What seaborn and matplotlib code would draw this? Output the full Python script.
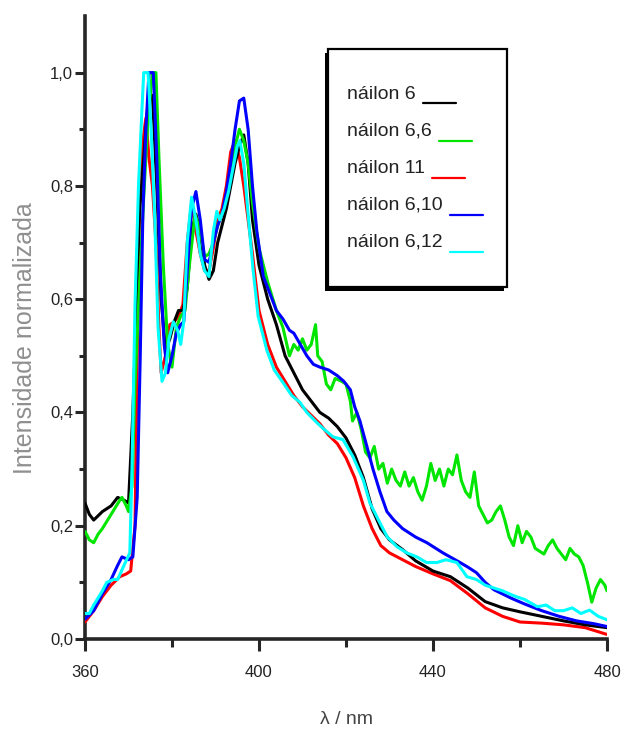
import numpy as np
import pandas as pd
import matplotlib
matplotlib.use("Agg")
import matplotlib.pyplot as plt
import seaborn as sns
from matplotlib.ticker import FixedLocator, FuncFormatter
from matplotlib.legend_handler import HandlerLine2D
from matplotlib.patches import Rectangle

# ---------------- data ----------------
labels = ["náilon 6", "náilon 6,6", "náilon 11", "náilon 6,10", "náilon 6,12"]
colors = ["#000000", "#00e600", "#ff0000", "#0000ff", "#00ffff"]

x_n6 = [360, 361, 362, 364, 366, 367.5, 369, 370, 371, 372, 372.5, 373.5, 374.5, 375.5,
        376.5, 377.5, 378.5, 379.5, 380.5, 381.5, 382.5, 383.5, 384.5, 385.5, 386.5, 387.5,
        388.5, 389.5, 390.5, 391.5, 392.5, 393.5, 394.5, 395.5, 396.5, 397.5, 398.5, 400,
        402, 404, 406, 408, 410, 412, 414, 416, 418, 420, 422, 424, 426, 428, 430, 433,
        436, 440, 444, 448, 452, 456, 460, 465, 470, 475, 480]
y_n6 = [0.24, 0.22, 0.21, 0.225, 0.235, 0.25, 0.245, 0.24, 0.40, 0.62, 0.75, 0.85, 0.95, 0.96,
        0.80, 0.60, 0.51, 0.53, 0.56, 0.58, 0.58, 0.62, 0.72, 0.75, 0.72, 0.66,
        0.635, 0.65, 0.70, 0.73, 0.76, 0.80, 0.84, 0.87, 0.89, 0.84, 0.74, 0.66,
        0.60, 0.555, 0.50, 0.47, 0.44, 0.42, 0.40, 0.39, 0.375, 0.355, 0.325, 0.285, 0.23, 0.195, 0.175, 0.158,
        0.138, 0.12, 0.11, 0.09, 0.066, 0.055, 0.048, 0.04, 0.032, 0.025, 0.02]

x_n66 = [360, 361, 362, 363, 364, 366, 368, 368.5, 369.5, 370, 370.8, 371.5, 372.5, 373.5,
         374.5, 375.5, 376.3, 377, 378, 379, 380, 381, 382, 383, 384, 385.3, 386.5, 387.5,
         388.5, 389.5, 390.5, 391.5, 392.5, 393.5, 394.5, 395.5, 396.5, 397.5, 398.5, 400,
         402, 404, 405.5, 407, 408, 409, 410, 411, 412, 413, 413.5, 414.5, 415.5, 416.5,
         417.5, 419, 420, 421, 421.5, 422.5, 423.5, 424.5, 425.5, 426.5, 427.5, 428.5,
         429.5, 430.5, 431.5, 432.5, 433.5, 434.5, 435.5, 436.5, 437.5, 438.5, 439.5,
         440.5, 441.5, 442.5, 443.5, 444.5, 445.5, 446.5, 447.5, 448.5, 449.5, 450.5,
         451.5, 452.5, 453.5, 454.5, 455.5, 456.5, 457.5, 458.5, 459.5, 460.5, 461.5,
         462.5, 463.5, 464.5, 465.5, 466.5, 467.5, 468.5, 469.5, 470.5, 471.5, 472.5,
         473.5, 474.5, 475.5, 476.5, 477.5, 478.5, 479.5, 480]
y_n66 = [0.19, 0.175, 0.17, 0.185, 0.195, 0.22, 0.245, 0.25, 0.235, 0.225, 0.27, 0.45, 0.62, 0.78,
         0.92, 1.0, 1.0, 0.85, 0.66, 0.52, 0.48, 0.55, 0.57, 0.58, 0.66, 0.75, 0.72, 0.675,
         0.68, 0.70, 0.73, 0.75, 0.78, 0.82, 0.87, 0.90, 0.88, 0.84, 0.77, 0.69,
         0.63, 0.58, 0.55, 0.50, 0.52, 0.51, 0.53, 0.51, 0.52, 0.555, 0.50, 0.49, 0.45, 0.44,
         0.46, 0.455, 0.45, 0.42, 0.385, 0.40, 0.37, 0.33, 0.32, 0.34, 0.30, 0.31,
         0.275, 0.30, 0.28, 0.27, 0.295, 0.27, 0.285, 0.26, 0.245, 0.27, 0.31,
         0.28, 0.30, 0.27, 0.30, 0.29, 0.325, 0.28, 0.26, 0.25, 0.295, 0.235,
         0.22, 0.205, 0.21, 0.225, 0.235, 0.21, 0.18, 0.165, 0.20, 0.17, 0.19,
         0.18, 0.16, 0.155, 0.15, 0.165, 0.175, 0.16, 0.15, 0.14, 0.16, 0.15,
         0.145, 0.13, 0.10, 0.065, 0.09, 0.105, 0.095, 0.085]

x_n11 = [360, 362, 364, 366, 368, 369.5, 370.5, 371.5, 372, 372.6, 373.3, 374, 374.7, 375.5,
         376.3, 377, 377.5, 378.5, 379.5, 380.5, 381.5, 382.5, 383.5, 384.5, 385.5, 386.5,
         387.5, 388.5, 389.5, 390.5, 391.5, 392.5, 393.5, 394.5, 395.5, 396.5, 397.5, 398.5,
         400, 402, 404, 406, 408, 410, 412, 414, 416, 418, 420, 422, 424, 426, 428, 430,
         433, 436, 440, 444, 448, 452, 456, 460, 465, 470, 475, 480]
y_n11 = [0.03, 0.05, 0.075, 0.095, 0.11, 0.115, 0.12, 0.20, 0.50, 0.80, 0.88, 0.92, 0.85, 0.80,
         0.70, 0.55, 0.47, 0.50, 0.555, 0.56, 0.57, 0.59, 0.70, 0.77, 0.72, 0.68,
         0.65, 0.65, 0.69, 0.74, 0.76, 0.80, 0.86, 0.88, 0.85, 0.80, 0.74, 0.68,
         0.58, 0.52, 0.48, 0.455, 0.43, 0.41, 0.395, 0.38, 0.36, 0.345, 0.32, 0.285, 0.235, 0.195, 0.165, 0.152,
         0.14, 0.128, 0.115, 0.103, 0.08, 0.055, 0.04, 0.03, 0.028, 0.025, 0.02, 0.008]

x_n610 = [360, 362, 364, 366, 367.5, 368.5, 370, 371, 372, 372.7, 373.3, 374, 374.7, 375.7,
          376.5, 377.3, 378.2, 379, 380, 381, 382, 382.7, 383.5, 384.5, 385.5, 386.5, 387.5,
          388.5, 389.5, 390.5, 391.5, 392.5, 393.5, 394.5, 395.5, 396.5, 397.5, 398.5, 399.5,
          401, 402.5, 404, 405.5, 407, 408, 409.5, 411, 412.5, 414, 416, 418, 419.5, 421,
          422, 423.2, 424.8, 426.2, 427.8, 429.4, 431, 433, 436, 438.6, 442.3, 446, 448,
          450, 452, 454, 458, 461, 465, 469, 473, 477, 480]
y_n610 = [0.035, 0.05, 0.08, 0.105, 0.13, 0.145, 0.14, 0.145, 0.25, 0.50, 0.75, 0.90, 1.0, 1.0,
          0.85, 0.65, 0.52, 0.47, 0.50, 0.54, 0.555, 0.56, 0.65, 0.76, 0.79, 0.74, 0.67,
          0.665, 0.70, 0.73, 0.75, 0.79, 0.84, 0.90, 0.95, 0.955, 0.90, 0.80, 0.72,
          0.64, 0.61, 0.58, 0.565, 0.545, 0.54, 0.52, 0.50, 0.485, 0.48, 0.475, 0.465, 0.455, 0.44,
          0.41, 0.385, 0.34, 0.30, 0.26, 0.225, 0.21, 0.195, 0.18, 0.17, 0.152, 0.136, 0.127,
          0.117, 0.10, 0.087, 0.072, 0.062, 0.05, 0.04, 0.032, 0.027, 0.022]

x_n612 = [360, 361, 362, 364, 365, 366.5, 367.5, 369.2, 370.3, 370.8, 371.5, 372.3, 373, 373.5,
          374.5, 375.2, 376, 376.8, 377.7, 378.5, 379.3, 380.3, 381.3, 382, 382.7, 383.5,
          384.5, 385.5, 386.5, 387.5, 388.5, 389.5, 390.3, 391, 392, 393, 394, 395, 395.6,
          396.5, 397.5, 398.6, 399.8, 401.8, 403.5, 405.5, 407.5, 409.4, 411, 413.3, 415,
          417, 419.3, 421.6, 424, 425.5, 427.8, 429.5, 431.7, 434, 436.3, 438.5, 440.9,
          443, 445.5, 447.8, 450, 452, 454, 456, 459, 461, 464, 466, 468, 470, 472, 474,
          476, 478, 480]
y_n612 = [0.045, 0.045, 0.06, 0.085, 0.10, 0.105, 0.105, 0.134, 0.152, 0.30, 0.59, 0.80, 0.92, 1.0,
          1.0, 0.90, 0.75, 0.55, 0.455, 0.47, 0.53, 0.56, 0.545, 0.52, 0.56, 0.70,
          0.78, 0.74, 0.68, 0.65, 0.64, 0.72, 0.755, 0.74, 0.76, 0.79, 0.83, 0.87, 0.88,
          0.84, 0.75, 0.655, 0.57, 0.51, 0.475, 0.453, 0.43, 0.418, 0.40, 0.382, 0.37,
          0.357, 0.352, 0.322, 0.28, 0.24, 0.205, 0.18, 0.163, 0.152, 0.145, 0.135, 0.135,
          0.14, 0.135, 0.11, 0.105, 0.095, 0.09, 0.085, 0.075, 0.07, 0.057, 0.06, 0.05, 0.05, 0.055, 0.045,
          0.051, 0.04, 0.034]

xs = [x_n6, x_n66, x_n11, x_n610, x_n612]
ys = [y_n6, y_n66, y_n11, y_n610, y_n612]

x_major = [360, 400, 440, 480]
x_minor = [380, 420, 460]
y_major = [0.0, 0.2, 0.4, 0.6, 0.8, 1.0]
y_minor = [0.1, 0.3, 0.5, 0.7, 0.9]

# ---------------- figure ----------------
sns.set_style("ticks")
plt.rcParams["font.family"] = ["Liberation Sans", "DejaVu Sans"]

W, H = 624, 730
fig = plt.figure(figsize=(W / 100, H / 100), dpi=100)
AX_L, AX_R, AX_T, AX_B = 85, 607, 16, 639
ax = fig.add_axes([AX_L / W, 1 - AX_B / H, (AX_R - AX_L) / W, (AX_B - AX_T) / H])


def ax_frac(px, py):
    return (px - AX_L) / (AX_R - AX_L), (AX_B - py) / (AX_B - AX_T)


draw_order = [2, 0, 1, 3, 4]
handles = {}
for z, i in enumerate(draw_order):
    df = pd.DataFrame({"lam": xs[i], "I": ys[i]})
    sns.lineplot(data=df, x="lam", y="I", ax=ax, color=colors[i], linewidth=2.2,
                 estimator=None, sort=False, zorder=3 + z)
    handles[i] = ax.lines[-1]

ax.set_xlim(360, 480)
ax.set_ylim(0, 1.1)
sns.despine(ax=ax)
for s in ["left", "bottom"]:
    ax.spines[s].set_linewidth(2.6)

ax.xaxis.set_major_locator(FixedLocator(x_major))
ax.xaxis.set_minor_locator(FixedLocator(x_minor))
ax.yaxis.set_major_locator(FixedLocator(y_major))
ax.yaxis.set_minor_locator(FixedLocator(y_minor))
ax.xaxis.set_major_formatter(FuncFormatter(lambda v, p: f"{v:.0f}"))
ax.yaxis.set_major_formatter(FuncFormatter(lambda v, p: f"{v:.1f}".replace(".", ",")))

ax.tick_params(axis="x", which="major", length=8.5, width=2.2, pad=10.5, labelsize=12, labelcolor="#222222")
ax.tick_params(axis="x", which="minor", length=5.5, width=2.2)
ax.tick_params(axis="y", which="major", length=7, width=2.2, pad=1.5, labelsize=12, labelcolor="#222222")
ax.tick_params(axis="y", which="minor", length=4.5, width=2.2)

ax.set_xlabel("λ / nm", fontsize=14, color="#444444", labelpad=22)
ax.set_ylabel("Intensidade normalizada", fontsize=18, color="#8f8f8f")
lab_x, lab_y = ax_frac(37, 338)
ax.yaxis.set_label_coords(lab_x, lab_y)

# legend box (frame with offset dark shadow, like the reference)
bx0, by0 = ax_frac(328, 287)
bx1, by1 = ax_frac(507, 49)
sx, sy = ax_frac(325, 291)
ax.add_patch(Rectangle((sx, sy), bx1 - bx0, by1 - by0, transform=ax.transAxes,
                       facecolor="black", edgecolor="black", lw=0, zorder=20, clip_on=False))
ax.add_patch(Rectangle((bx0, by0), bx1 - bx0, by1 - by0, transform=ax.transAxes,
                       facecolor="white", edgecolor="black", lw=1.6, zorder=21, clip_on=False))


class BaselineHandler(HandlerLine2D):
    def create_artists(self, legend, orig_handle, xdescent, ydescent, width, height, fontsize, trans):
        arts = super().create_artists(legend, orig_handle, xdescent, ydescent, width, height, fontsize, trans)
        for a in arts:
            yd = np.asarray(a.get_ydata(), dtype=float)
            a.set_ydata(np.zeros_like(yd) - 0.25 * fontsize)
            a.set_linewidth(1.6)
        return arts


lx, ly = ax_frac(347, 85)
leg_handles = [handles[i] for i in range(5)]
leg = ax.legend(leg_handles, labels, loc="upper left", bbox_to_anchor=(lx, ly),
                markerfirst=False, frameon=False, fontsize=14,
                handlelength=1.7, handletextpad=0.36, labelspacing=1.0, borderpad=0,
                borderaxespad=0, handler_map={matplotlib.lines.Line2D: BaselineHandler()})
leg.set_zorder(22)
for col in leg._legend_handle_box.get_children():
    col.align = "left"
for t in leg.get_texts():
    t.set_color("#222222")

fig.savefig("out.png", dpi=100, facecolor="white")
